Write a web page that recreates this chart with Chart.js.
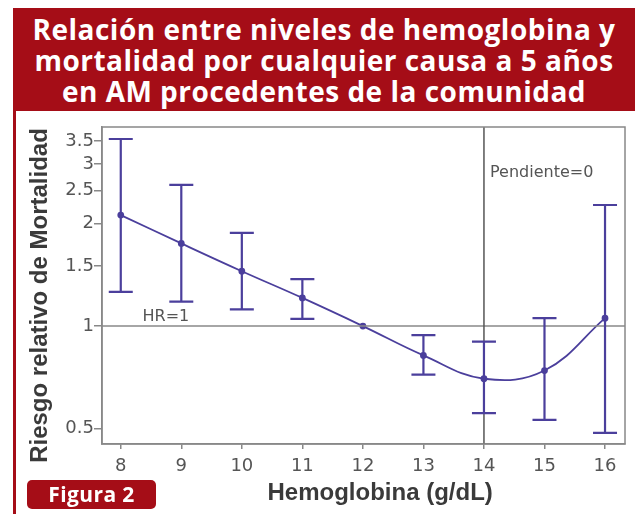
<!DOCTYPE html>
<html>
<head>
<meta charset="utf-8">
<script src="https://cdn.jsdelivr.net/npm/chart.js@4"></script>
<style>
  body { margin: 0; background: #fff; }
  #wrap { position: relative; width: 635px; height: 514px; overflow: hidden; }
  #frame { position: absolute; left: 13px; top: 8px; width: 640px; height: 520px;
           border: 3px solid #a50d17; box-sizing: border-box; }
  #banner { position: absolute; left: 13px; top: 8px; width: 640px; height: 103px;
            background: #a50d17; }
  #title { position: absolute; left: 13px; top: 14px; width: 622px; text-align: center;
           color: #fff; font: 700 28px/31px "Open Sans", sans-serif; letter-spacing: 0.5px; }
  #fig { position: absolute; left: 27px; top: 480px; width: 129px; height: 29px;
         background: #a50d17; border-radius: 5px; color: #fff;
         font: 700 21px/29px "Open Sans", sans-serif; letter-spacing: 0.4px; text-align: center; }
  canvas { position: absolute; left: 0; top: 0; }
</style>
</head>
<body>
<div id="wrap">
  <div id="frame"></div>
  <div id="banner"></div>
  <div id="title">Relación entre niveles de hemoglobina y<br>mortalidad por cualquier causa a 5 años<br>en AM procedentes de la comunidad</div>
  <canvas id="myChart" width="635" height="514"></canvas>
  <div id="fig">Figura 2</div>
</div>
<script>
// hemoglobina (g/dL)
var hemoglobina = [8, 9, 10, 11, 12, 13, 14, 15, 16];
// riesgo relativo y sus intervalos
var riesgo   = [2.12, 1.75, 1.45, 1.21, 1.0, 0.82, 0.70, 0.74, 1.055];
var icInf    = [1.26, 1.18, 1.12, 1.05, null, 0.72, 0.555, 0.53, 0.485];
var icSup    = [3.55, 2.6, 1.88, 1.375, null, 0.94, 0.90, 1.055, 2.27];
var yTicks = [0.5, 1, 1.5, 2, 2.5, 3, 3.5];
var xTicks = [8, 9, 10, 11, 12, 13, 14, 15, 16];

var azul = '#4b3f9c';

var puntos = hemoglobina.map(function(h, i) {
    return {x: h, y: riesgo[i]};
});

var extras = {
    id: 'extras',
    afterDatasetsDraw: function(chart) {
        var ctx = chart.ctx;
        var a = chart.chartArea;
        var xs = chart.scales.x, ys = chart.scales.y;
        ctx.save();
        // reference lines
        ctx.strokeStyle = '#888';
        ctx.lineWidth = 1.5;
        ctx.beginPath();
        var y1 = ys.getPixelForValue(1);
        ctx.moveTo(a.left, y1); ctx.lineTo(a.right, y1);
        ctx.stroke();
        ctx.strokeStyle = '#555';
        ctx.beginPath();
        var x14 = xs.getPixelForValue(14);
        ctx.moveTo(x14, a.top); ctx.lineTo(x14, a.bottom);
        ctx.stroke();
        // error bars
        ctx.strokeStyle = azul;
        ctx.lineWidth = 2.2;
        hemoglobina.forEach(function(h, i) {
            if (icInf[i] == null) return;
            var px = xs.getPixelForValue(h);
            var lo = ys.getPixelForValue(icInf[i]);
            var hi = ys.getPixelForValue(icSup[i]);
            ctx.beginPath();
            ctx.moveTo(px, lo); ctx.lineTo(px, hi);
            ctx.moveTo(px - 12, lo); ctx.lineTo(px + 12, lo);
            ctx.moveTo(px - 12, hi); ctx.lineTo(px + 12, hi);
            ctx.stroke();
        });
        // frame
        ctx.strokeStyle = '#888';
        ctx.lineWidth = 1.5;
        ctx.strokeRect(a.left, a.top, a.right - a.left, a.bottom - a.top);
        // labels
        ctx.fillStyle = '#555';
        ctx.font = '16px "DejaVu Sans", sans-serif';
        ctx.textBaseline = 'alphabetic';
        ctx.fillText('HR=1', xs.getPixelForValue(8.36), y1 - 5);
        ctx.fillText('Pendiente=0', xs.getPixelForValue(14.1), ys.getPixelForValue(2.75));
        ctx.restore();
    }
};

var graphData = {
    type: 'line',
    data: {
        datasets: [{
            data: puntos,
            borderColor: azul,
            backgroundColor: azul,
            borderWidth: 1.8,
            pointRadius: 2.5,
            pointHoverRadius: 2.5,
            tension: 0.4,
            fill: false
        }]
    },
    options: {
        responsive: false,
        animation: false,
        layout: { padding: { left: 26, right: 10, top: 127, bottom: 6 } },
        plugins: { legend: { display: false }, tooltip: { enabled: false } },
        scales: {
            x: {
                type: 'linear',
                min: 7.69,
                max: 16.33,
                afterBuildTicks: function(s) { s.ticks = xTicks.map(function(v) { return {value: v}; }); },
                afterFit: function(s) { s.height = 64; },
                grid: { display: true, drawOnChartArea: false, drawTicks: true, tickLength: 5, color: '#888', lineWidth: 1.5 },
                border: { display: true, color: '#888', width: 1.5 },
                ticks: { color: '#555', padding: 7, font: { family: '"DejaVu Sans", sans-serif', size: 18 } },
                title: {
                    display: true,
                    // leading spaces nudge it right like the original
                    text: '\u00a0\u00a0\u00a0\u00a0\u00a0Hemoglobina (g/dL)',
                    color: '#3a3a3a',
                    padding: { top: 0, bottom: 0 },
                    font: { family: '"Liberation Sans", Arial, sans-serif', size: 24, weight: 'bold' }
                }
            },
            y: {
                type: 'logarithmic',
                min: 0.45,
                max: 3.85,
                afterBuildTicks: function(s) { s.ticks = yTicks.map(function(v) { return {value: v}; }); },
                afterFit: function(s) { s.width = 76; },
                grid: { display: true, drawOnChartArea: false, drawTicks: true, tickLength: 8, color: '#888', lineWidth: 1.5 },
                border: { display: true, color: '#888', width: 1.5 },
                ticks: {
                    color: '#555',
                    padding: 0,
                    font: { family: '"DejaVu Sans", sans-serif', size: 18 },
                    callback: function(value) { return String(value); }
                },
                title: {
                    display: true,
                    text: 'Riesgo relativo de Mortalidad\u00a0\u00a0\u00a0',
                    color: '#3a3a3a',
                    padding: { top: 0, bottom: 0 },
                    font: { family: '"Liberation Sans", Arial, sans-serif', size: 24, weight: 'bold' }
                }
            }
        }
    },
    plugins: [extras]
};

var ctx = document.getElementById('myChart').getContext('2d');
var myChart = new Chart(ctx, graphData);
</script>
</body>
</html>
